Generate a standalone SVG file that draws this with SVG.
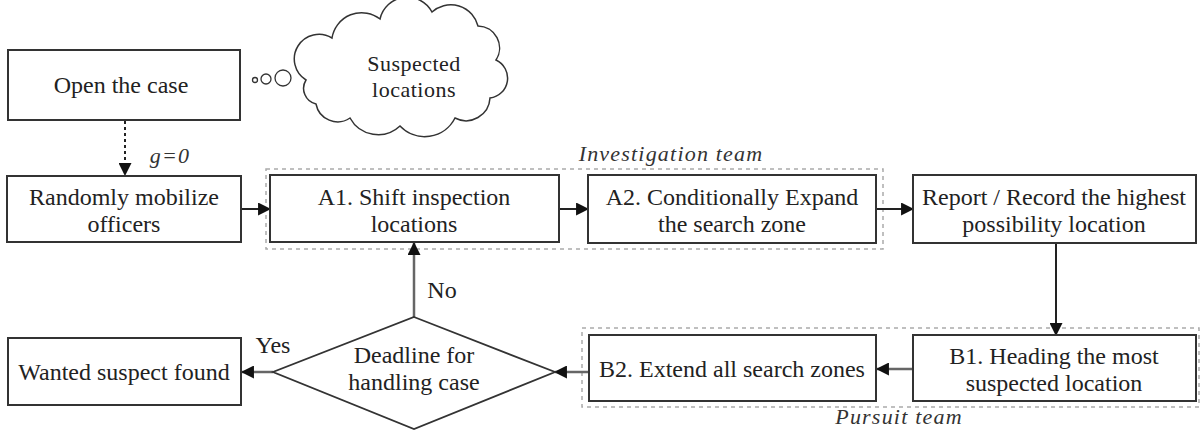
<svg xmlns="http://www.w3.org/2000/svg" width="1202" height="436" viewBox="0 0 1202 436">
  <style>
    .box { fill: #fff; stroke: #333; stroke-width: 2; }
    .team { fill: none; stroke: #aaa; stroke-width: 1.5; stroke-dasharray: 4 4; }
    .lbl { font-family: "Liberation Serif", "Times New Roman", serif; font-size: 24px; fill: #222; text-anchor: middle; }
    .cloud-lbl { font-family: "Liberation Serif", "Times New Roman", serif; font-size: 22px; letter-spacing: 0.5px; fill: #222; text-anchor: middle; }
    .it { font-family: "Liberation Serif", "Times New Roman", serif; font-size: 22px; letter-spacing: 1.2px; font-style: italic; fill: #333; text-anchor: middle; }
    .edge { fill: none; stroke: #666; stroke-width: 2.5; }
    .dark { stroke: #222; stroke-width: 2; }
  </style>
  <defs>
    <marker id="arrow" viewBox="0 0 12 12" refX="11" refY="6" markerWidth="13" markerHeight="13" markerUnits="userSpaceOnUse" orient="auto">
      <path d="M0,0 L12,6 L0,12 Z" fill="#111"/>
    </marker>
  </defs>

  <!-- team frames -->
  <rect class="team" x="266" y="169" width="617" height="80"/>
  <text class="it" x="671" y="161">Investigation team</text>
  <rect class="team" x="582" y="328" width="617" height="79"/>
  <text class="it" x="899" y="424">Pursuit team</text>

  <!-- connectors -->
  <g id="connectors">
    <line class="edge dark" x1="125" y1="121" x2="125" y2="175" stroke-dasharray="3 3" marker-end="url(#arrow)"/>
    <text class="it" x="170" y="163">g=0</text>
    <line class="edge dark" x1="241" y1="209" x2="270" y2="209" marker-end="url(#arrow)"/>
    <line class="edge dark" x1="559" y1="209" x2="588" y2="209" marker-end="url(#arrow)"/>
    <line class="edge dark" x1="876" y1="209" x2="913" y2="209" marker-end="url(#arrow)"/>
    <line class="edge dark" x1="1056" y1="244" x2="1056" y2="335" marker-end="url(#arrow)"/>
    <line class="edge" x1="913" y1="369" x2="877" y2="369" marker-end="url(#arrow)"/>
    <line class="edge" x1="589" y1="372" x2="555" y2="372" marker-end="url(#arrow)"/>
    <line class="edge" x1="273" y1="372" x2="242" y2="372" marker-end="url(#arrow)"/>
    <line class="edge" x1="414" y1="317" x2="414" y2="243" marker-end="url(#arrow)"/>
    <text class="lbl" x="442" y="298">No</text>
    <text class="lbl" x="273" y="353">Yes</text>
  </g>

  <g id="open-case">
    <rect class="box" x="8" y="50" width="232" height="70"/>
    <text class="lbl" x="121" y="93">Open the case</text>
  </g>

  <g id="suspected-locations">
    <circle cx="255" cy="80" r="2.5" fill="none" stroke="#333" stroke-width="1.3"/>
    <circle cx="266" cy="79" r="5" fill="none" stroke="#333" stroke-width="1.3"/>
    <circle cx="283" cy="78" r="8" fill="none" stroke="#333" stroke-width="1.3"/>
    <path d="M306,80 A22,22 0 0 1 332,38 A30,30 0 0 1 380,19 A28,28 0 0 1 432,12 A28,28 0 0 1 478,26 A22,22 0 0 1 496,60 A20,20 0 0 1 490,98 A24,24 0 0 1 455,118 A34,34 0 0 1 400,126 A32,32 0 0 1 350,118 A22,22 0 0 1 316,104 A16,16 0 0 1 306,80 Z" fill="#fff" stroke="#333" stroke-width="1.5"/>
    <text class="cloud-lbl" x="414" y="71">Suspected</text>
    <text class="cloud-lbl" x="414" y="97">locations</text>
  </g>

  <g id="mobilize">
    <rect class="box" x="7" y="176" width="234" height="66"/>
    <text class="lbl" x="124" y="205">Randomly mobilize</text>
    <text class="lbl" x="124" y="232">officers</text>
  </g>

  <g id="a1">
    <rect class="box" x="270" y="175" width="289" height="67"/>
    <text class="lbl" x="414" y="205">A1. Shift inspection</text>
    <text class="lbl" x="414" y="232">locations</text>
  </g>

  <g id="a2">
    <rect class="box" x="588" y="175" width="288" height="68"/>
    <text class="lbl" x="732" y="205">A2. Conditionally Expand</text>
    <text class="lbl" x="732" y="232">the search zone</text>
  </g>

  <g id="report">
    <rect class="box" x="913" y="175" width="283" height="68"/>
    <text class="lbl" x="1054" y="205">Report / Record the highest</text>
    <text class="lbl" x="1054" y="232">possibility location</text>
  </g>

  <g id="b1">
    <rect class="box" x="913" y="335" width="283" height="66"/>
    <text class="lbl" x="1054" y="364">B1. Heading the most</text>
    <text class="lbl" x="1054" y="391">suspected location</text>
  </g>

  <g id="b2">
    <rect class="box" x="589" y="335" width="287" height="66"/>
    <text class="lbl" x="732" y="377">B2. Extend all search zones</text>
  </g>

  <g id="deadline">
    <path d="M414,317 L555,372 L414,429 L273,372 Z" fill="#fff" stroke="#333" stroke-width="1.8"/>
    <text class="lbl" x="414" y="363">Deadline for</text>
    <text class="lbl" x="414" y="390">handling case</text>
  </g>

  <g id="found">
    <rect class="box" x="8" y="338" width="233" height="67"/>
    <text class="lbl" x="124" y="380">Wanted suspect found</text>
  </g>
</svg>
